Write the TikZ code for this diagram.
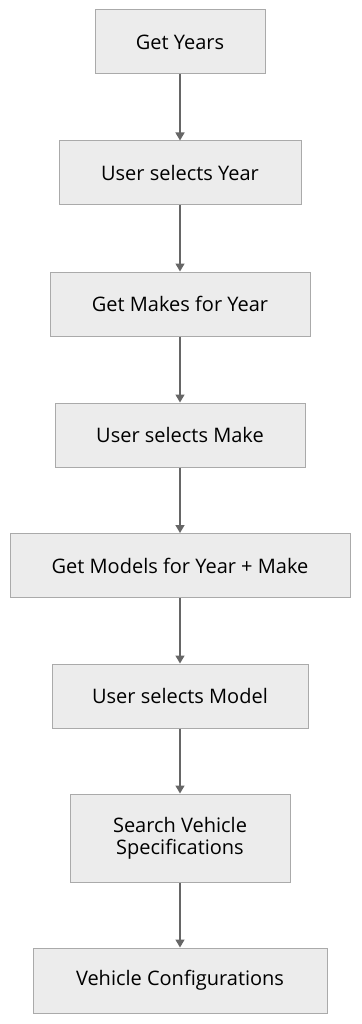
\documentclass[tikz,border=0pt]{standalone}
\usepackage{fontspec}
\setmainfont{Open Sans}
\usetikzlibrary{arrows.meta}
\definecolor{boxfill}{HTML}{ECECEC}
\definecolor{boxline}{HTML}{AAAAAA}
\definecolor{arrowc}{HTML}{666666}
\begin{document}
\begin{tikzpicture}[x=1pt,y=1pt,
  stepbox/.style={draw=boxline,fill=boxfill,line width=1pt,inner sep=0pt,align=center,font=\fontsize{20}{22}\selectfont,text=black},
  conn/.style={draw=arrowc,line width=1.4pt,-{Triangle[length=8pt,width=9pt]}}]
\useasboundingbox (0,0) rectangle (361,-1024);
\node[stepbox,minimum width=170,minimum height=64] (a) at (180,-42) {Get Years};
\node[stepbox,minimum width=242,minimum height=64] (b) at (180,-173) {User selects Year};
\node[stepbox,minimum width=260,minimum height=64] (c) at (180,-304) {Get Makes for Year};
\node[stepbox,minimum width=250,minimum height=64] (d) at (180,-435) {User selects Make};
\node[stepbox,minimum width=340,minimum height=64] (e) at (180,-565.5) {Get Models for Year + Make};
\node[stepbox,minimum width=256,minimum height=64] (f) at (180,-696) {User selects Model};
\node[stepbox,minimum width=220,minimum height=88] (g) at (180,-838) {Search Vehicle\\Specifications};
\node[stepbox,minimum width=294,minimum height=65] (h) at (180,-980.5) {Vehicle Configurations};
\draw[conn] (a) -- (b);
\draw[conn] (b) -- (c);
\draw[conn] (c) -- (d);
\draw[conn] (d) -- (e);
\draw[conn] (e) -- (f);
\draw[conn] (f) -- (g);
\draw[conn] (g) -- (h);
\end{tikzpicture}
\end{document}
